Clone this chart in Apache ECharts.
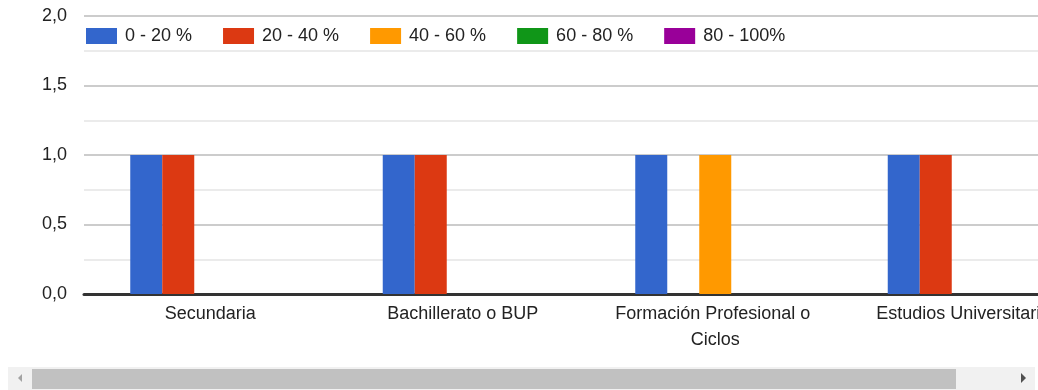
<!DOCTYPE html>
<html>
<head>
<meta charset="utf-8">
<script src="https://cdn.jsdelivr.net/npm/echarts@6/dist/echarts.min.js"></script>
<style>
html,body{margin:0;padding:0;background:#fff;}
#wrap{width:1038px;height:390px;overflow:hidden;position:relative;}
#chart{width:1100px;height:390px;}
</style>
</head>
<body>
<div id="wrap"><div id="chart"></div></div>
<script>
const categories = ['Secundaria', 'Bachillerato o BUP', 'Formación Profesional o Ciclos', 'Estudios Universitarios'];
const seriesNames = ['0 - 20 %', '20 - 40 %', '40 - 60 %', '60 - 80 %', '80 - 100%'];
const s0to20 = [1, 1, 1, 1];
const s20to40 = [1, 1, 0, 1];
const s40to60 = [0, 0, 1, 0];
const s60to80 = [0, 0, 0, 0];
const s80to100 = [0, 0, 0, 0];
const yTicks = [0, 0.5, 1, 1.5, 2];

const colors = ['#3366cc', '#dc3912', '#ff9900', '#109618', '#990099'];
const values = [s0to20, s20to40, s40to60, s60to80, s80to100];
const font = 'Liberation Sans, Arial, sans-serif';

const chart = echarts.init(document.getElementById('chart'), null, {renderer: 'canvas'});
chart.setOption({
  animation: false,
  color: colors,
  textStyle: {fontFamily: font},
  legend: {
    left: 86, top: 27, padding: 0,
    itemWidth: 31, itemHeight: 16, itemGap: 31,
    icon: 'rect',
    textStyle: {fontSize: 18, color: '#222', fontFamily: font, padding: [0, 0, 0, 3]},
    data: seriesNames
  },
  grid: {left: 84, right: 6, top: 16, bottom: 96, containLabel: false},
  xAxis: {
    type: 'category',
    data: categories,
    axisTick: {show: false},
    axisLine: {lineStyle: {color: '#333', width: 3}},
    axisLabel: {
      fontSize: 18, color: '#222', fontFamily: font, margin: 7,
      lineHeight: 26, width: 240, overflow: 'break', interval: 0
    }
  },
  yAxis: {
    type: 'value', min: 0, max: 2, interval: 0.5,
    axisLine: {show: false}, axisTick: {show: false},
    axisLabel: {
      fontSize: 18, color: '#222', fontFamily: font, margin: 17,
      formatter: v => (yTicks.indexOf(v) >= 0 ? v.toFixed(1).replace('.', ',') : '')
    },
    splitLine: {lineStyle: {color: '#cccccc', width: 2}},
    minorTick: {show: false, splitNumber: 2},
    minorSplitLine: {show: true, lineStyle: {color: '#ebebeb', width: 2}}
  },
  series: seriesNames.map((n, i) => ({
    name: n, type: 'bar', data: values[i],
    barWidth: 32, barGap: '0%'
  })),
  graphic: [
    {type: 'rect', shape: {x: 8, y: 367, width: 1027, height: 23}, style: {fill: '#f1f1f1'}, z: 100},
    {type: 'rect', shape: {x: 32, y: 369, width: 924, height: 20}, style: {fill: '#c1c1c1'}, z: 101},
    {type: 'polygon', shape: {points: [[18, 378], [22, 374], [22, 382]]}, style: {fill: '#a3a3a3'}, z: 101},
    {type: 'polygon', shape: {points: [[1026, 378], [1021, 373], [1021, 383]]}, style: {fill: '#505050'}, z: 101}
  ]
});
</script>
</body>
</html>
